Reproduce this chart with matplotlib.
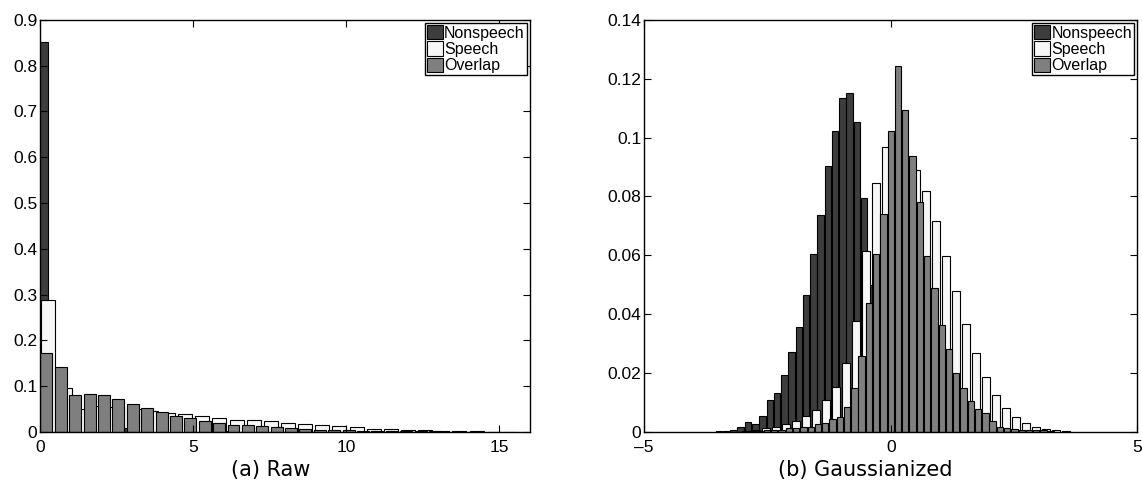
import numpy as np
import matplotlib
matplotlib.use('Agg')
import matplotlib.pyplot as plt
from matplotlib.patches import Patch
from matplotlib.ticker import FuncFormatter

""" data read off the two histograms """

series_names = ['Nonspeech', 'Speech', 'Overlap']
series_colors = ['#3d3d3d', '#f7f7f7', '#7f7f7f']

# (a) Raw : first bin centre, bin step, bar heights
raw_nonspeech_start, raw_nonspeech_step = 0.02, 0.56
raw_nonspeech = [0.851, 0.045, 0.03, 0.02, 0.012, 0.008, 0.005, 0.004, 0.003, 0.0025,
                 0.002, 0.0015, 0.001, 0.001, 0.0008, 0.0006, 0.0005, 0.0004, 0.0003, 0.0002]

raw_speech_start, raw_speech_step = 0.26, 0.56
raw_speech = [0.288, 0.096, 0.051, 0.056, 0.055, 0.051, 0.045, 0.042, 0.038, 0.0337,
              0.0293, 0.0263, 0.0249, 0.0234, 0.0205, 0.0183, 0.014, 0.0118, 0.0096, 0.0074,
              0.0059, 0.0044, 0.0037, 0.003, 0.0023, 0.0016, 0.0008, 0.0005]

raw_overlap_start, raw_overlap_step = 0.21, 0.47
raw_overlap = [0.1715, 0.141, 0.080, 0.082, 0.080, 0.071, 0.060, 0.053, 0.043, 0.035,
               0.030, 0.0234, 0.019, 0.016, 0.014, 0.0118, 0.0103, 0.0088, 0.0066, 0.0052,
               0.0044, 0.0035, 0.003, 0.0028, 0.0023, 0.0016, 0.0012, 0.001, 0.0008, 0.0006, 0.0004]

# (b) Gaussianized
gau_nonspeech_start, gau_nonspeech_step = -3.48, 0.147
gau_nonspeech = [0.0002, 0.0004, 0.0007, 0.0016, 0.0035, 0.0028, 0.0055, 0.0107, 0.0131, 0.0194,
                 0.0272, 0.0358, 0.0466, 0.0604, 0.0736, 0.0905, 0.1023, 0.1136, 0.1152, 0.1053,
                 0.0795, 0.05, 0.03, 0.016, 0.008, 0.004, 0.002, 0.001]

gau_speech_start, gau_speech_step = -2.93, 0.2025
gau_speech = [0.0003, 0.0007, 0.0012, 0.0018, 0.0027, 0.0038, 0.0055, 0.0076, 0.0107, 0.0154,
              0.0235, 0.0377, 0.0616, 0.0847, 0.0968, 0.094, 0.092, 0.089, 0.0818, 0.0716,
              0.0598, 0.048, 0.0367, 0.0269, 0.0186, 0.0127, 0.0081, 0.005, 0.003, 0.0017,
              0.001, 0.0006, 0.0003]

gau_overlap_start, gau_overlap_step = -2.95, 0.1475
gau_overlap = [0.0002, 0.0003, 0.0004, 0.0006, 0.0005, 0.0008, 0.0012, 0.0012, 0.0018, 0.0015,
               0.0027, 0.003, 0.0044, 0.0052, 0.0084, 0.0148, 0.0258, 0.0437, 0.0604, 0.0741,
               0.1023, 0.1244, 0.1095, 0.0939, 0.0781, 0.0596, 0.0489, 0.0364, 0.0283, 0.02,
               0.0148, 0.0105, 0.0079, 0.0064, 0.0036, 0.0017, 0.0012, 0.0009, 0.0007, 0.0006,
               0.0006, 0.0005, 0.0004]

raw_xticks = [0, 5, 10, 15]
raw_yticks = [0, 0.1, 0.2, 0.3, 0.4, 0.5, 0.6, 0.7, 0.8, 0.9]
gau_xticks = [-5, 0, 5]
gau_yticks = [0, 0.02, 0.04, 0.06, 0.08, 0.1, 0.12, 0.14]

captions = ['(a) Raw', '(b) Gaussianized']

tick_font = 'Liberation Sans'


def fmt(v, pos):
    return ('%g' % v).replace('-', '\u2013')


def draw_hist(ax, start, step, heights, color, frac):
    centers = start + step * np.arange(len(heights))
    ax.bar(centers, heights, width=frac * step, color=color,
           edgecolor='black', linewidth=0.8, align='center')


def style_axes(ax, xlim, ylim, xticks, yticks):
    ax.set_xlim(*xlim)
    ax.set_ylim(*ylim)
    ax.set_xticks(xticks)
    ax.set_yticks(yticks)
    ax.xaxis.set_major_formatter(FuncFormatter(fmt))
    ax.yaxis.set_major_formatter(FuncFormatter(fmt))
    ax.tick_params(direction='in', length=5, width=0.8, top=True, right=True,
                   labelsize=12.5)
    ax.tick_params(axis='y', pad=2)
    ax.tick_params(axis='x', pad=6)
    for lab in ax.get_xticklabels() + ax.get_yticklabels():
        lab.set_family(tick_font)
    for sp in ax.spines.values():
        sp.set_linewidth(1.0)
    handles = [Patch(facecolor=c, edgecolor='black', linewidth=0.8) for c in series_colors]
    leg = ax.legend(handles, series_names, loc='upper right', fancybox=False,
                    framealpha=1, edgecolor='black', borderaxespad=0.2,
                    borderpad=0.12, handlelength=1.0, handleheight=1.0,
                    handletextpad=0.1, labelspacing=0.05,
                    prop={'family': tick_font, 'size': 11.5})
    leg.get_frame().set_linewidth(1.0)


fig = plt.figure(figsize=(11.42, 4.97), dpi=100)
ax1 = fig.add_axes([0.035, 0.131, 0.429, 0.829])
ax2 = fig.add_axes([0.564, 0.131, 0.432, 0.829])

# draw order: nonspeech at the back, overlap at the front
draw_hist(ax1, raw_nonspeech_start, raw_nonspeech_step, raw_nonspeech, series_colors[0], 0.82)
draw_hist(ax1, raw_speech_start, raw_speech_step, raw_speech, series_colors[1], 0.82)
draw_hist(ax1, raw_overlap_start, raw_overlap_step, raw_overlap, series_colors[2], 0.83)
style_axes(ax1, (0, 16), (0, 0.9), raw_xticks, raw_yticks)

draw_hist(ax2, gau_nonspeech_start, gau_nonspeech_step, gau_nonspeech, series_colors[0], 0.92)
draw_hist(ax2, gau_speech_start, gau_speech_step, gau_speech, series_colors[1], 0.75)
draw_hist(ax2, gau_overlap_start, gau_overlap_step, gau_overlap, series_colors[2], 0.87)
style_axes(ax2, (-5, 5), (0, 0.14), gau_xticks, gau_yticks)

fig.text(0.237, 0.055, captions[0], ha='center', va='center', fontsize=15, family='DejaVu Sans')
fig.text(0.758, 0.055, captions[1], ha='center', va='center', fontsize=15, family='DejaVu Sans')

fig.savefig('out.png', dpi=100)
